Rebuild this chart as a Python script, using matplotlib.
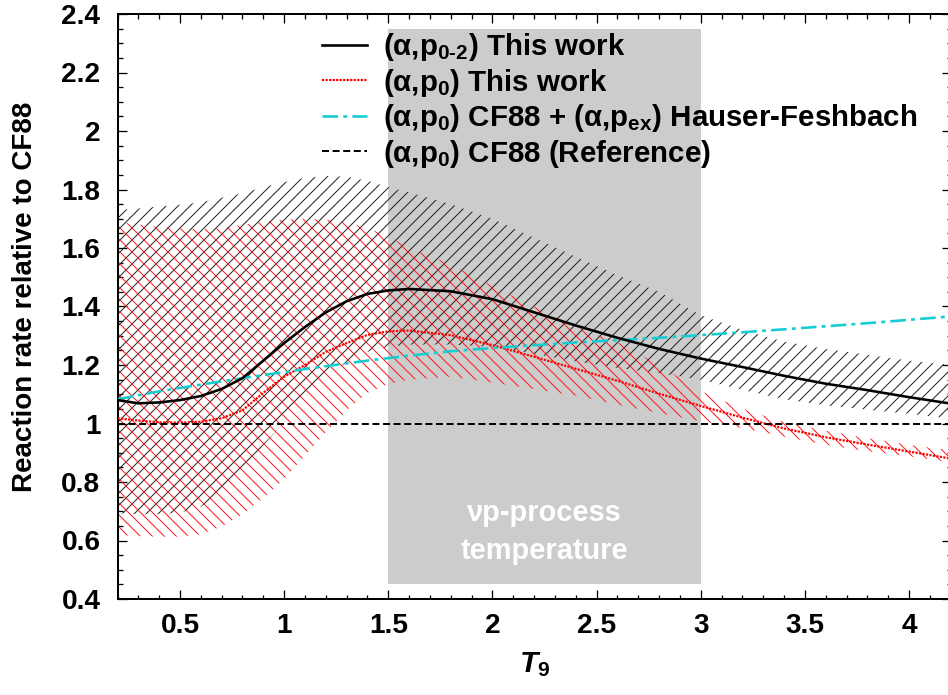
import numpy as np
import matplotlib
matplotlib.use('Agg')
import matplotlib.pyplot as plt
from matplotlib.ticker import MultipleLocator, FormatStrFormatter

plt.rcParams['font.family'] = ['Liberation Sans', 'DejaVu Sans']
plt.rcParams['font.weight'] = 'bold'
plt.rcParams['axes.labelweight'] = 'bold'
plt.rcParams['mathtext.fontset'] = 'custom'
plt.rcParams['mathtext.rm'] = 'Liberation Sans:bold'
plt.rcParams['mathtext.it'] = 'Liberation Sans:bold:italic'
plt.rcParams['mathtext.bf'] = 'Liberation Sans:bold'
plt.rcParams['mathtext.default'] = 'rm'
plt.rcParams['hatch.linewidth'] = 1.0

# temperature grid (T9)
t9 = [0.2, 0.3, 0.4, 0.5, 0.6, 0.7, 0.8, 0.9, 1.0, 1.1, 1.2, 1.3, 1.4, 1.5,
      1.6, 1.8, 2.0, 2.2, 2.4, 2.6, 2.8, 3.0, 3.2, 3.4, 3.6, 3.8, 4.0, 4.2]

# (a,p0-2) this work: central value and uncertainty band
p02 = [1.080, 1.069, 1.072, 1.080, 1.094, 1.118, 1.155, 1.215, 1.275, 1.330,
       1.380, 1.418, 1.443, 1.455, 1.460, 1.452, 1.425, 1.380, 1.335, 1.293,
       1.255, 1.222, 1.193, 1.163, 1.136, 1.114, 1.090, 1.068]
p02_hi = [1.730, 1.735, 1.742, 1.748, 1.756, 1.772, 1.787, 1.808, 1.825, 1.840,
          1.846, 1.844, 1.830, 1.808, 1.790, 1.750, 1.700, 1.635, 1.570, 1.507,
          1.450, 1.370, 1.320, 1.280, 1.255, 1.235, 1.215, 1.200]
p02_lo = [0.693, 0.690, 0.690, 0.695, 0.715, 0.765, 0.838, 0.925, 1.005, 1.085,
          1.155, 1.210, 1.245, 1.262, 1.270, 1.270, 1.262, 1.238, 1.212, 1.190,
          1.172, 1.150, 1.115, 1.083, 1.062, 1.047, 1.033, 1.017]

# (a,p0) this work: central value and uncertainty band
p0 = [1.018, 1.010, 1.004, 1.003, 1.006, 1.018, 1.045, 1.105, 1.160, 1.200,
      1.245, 1.275, 1.303, 1.315, 1.318, 1.302, 1.268, 1.228, 1.187, 1.146,
      1.102, 1.060, 1.020, 0.983, 0.953, 0.928, 0.904, 0.880]
p0_hi = [1.690, 1.680, 1.672, 1.668, 1.664, 1.668, 1.679, 1.690, 1.697, 1.700,
         1.697, 1.688, 1.668, 1.640, 1.600, 1.545, 1.470, 1.400, 1.330, 1.278,
         1.200, 1.110, 1.050, 1.005, 0.975, 0.950, 0.927, 0.908]
p0_lo = [0.619, 0.615, 0.613, 0.613, 0.622, 0.648, 0.690, 0.745, 0.810, 0.890,
         0.970, 1.045, 1.105, 1.135, 1.150, 1.160, 1.140, 1.118, 1.095, 1.065,
         1.035, 1.008, 0.985, 0.955, 0.927, 0.905, 0.888, 0.867]

# CF88 + Hauser-Feshbach
t9_hf = [0.2, 0.4, 0.6, 0.8, 1.0, 1.2, 1.4, 1.6, 1.8, 2.0, 2.4, 2.8, 3.0, 3.4, 3.8, 4.2]
hf = [1.083, 1.110, 1.133, 1.155, 1.176, 1.196, 1.215, 1.232, 1.247, 1.258,
      1.277, 1.293, 1.302, 1.322, 1.343, 1.366]

nu_p_range = (1.5, 3.0)
nu_p_y = (0.45, 2.35)

labels = [r'($\alpha$,p$_{0\text{-}2}$) This work',
          r'($\alpha$,p$_{0}$) This work',
          r'($\alpha$,p$_{0}$) CF88 + ($\alpha$,p$_{ex}$) Hauser-Feshbach',
          r'($\alpha$,p$_{0}$) CF88 (Reference)']

W, H, DPI = 948, 695, 72
fig = plt.figure(figsize=(W / DPI, H / DPI), dpi=DPI)
ax = fig.add_axes([117.5 / W, 96 / H, (950.8 - 117.5) / W, 585 / H])

# nu-p process window
ax.fill_between(nu_p_range, nu_p_y[0], nu_p_y[1], color='#cccccc', lw=0, zorder=0)
ax.text(np.mean(nu_p_range), 0.695, 'νp-process', color='white', fontsize=29,
        ha='center', va='center', zorder=1)
ax.text(np.mean(nu_p_range), 0.563, 'temperature', color='white', fontsize=29,
        ha='center', va='center', zorder=1)

# uncertainty bands
ax.fill_between(t9, p02_lo, p02_hi, facecolor='none', edgecolor='#222222',
                hatch='//', lw=0, zorder=2)
ax.fill_between(t9, p0_lo, p0_hi, facecolor='none', edgecolor='#ff1a1a',
                hatch='\\\\', lw=0, zorder=2)

l1, = ax.plot(t9, p02, color='black', lw=2.6, zorder=5)
l2, = ax.plot(t9, p0, color='red', lw=2.2, ls=(0, (1, 0.6)), zorder=4)
l3, = ax.plot(t9_hf, hf, color='#14cdd2', lw=2.6, ls=(0, (6, 2, 1.5, 2)), zorder=4)
l4 = ax.axhline(1.0, color='black', lw=2.0, ls=(0, (3.5, 1.8)), zorder=4)

leg = ax.legend([l1, l2, l3, l4], labels, frameon=False, fontsize=29.5,
                loc='upper left', bbox_to_anchor=(322 / W, 1 - 31 / H),
                bbox_transform=fig.transFigure, handlelength=1.52,
                handletextpad=0.55, labelspacing=0.12, borderpad=0, borderaxespad=0)
leg.set_zorder(6)

ax.set_xlim(0.2, 4.2)
ax.set_ylim(0.4, 2.4)
ax.xaxis.set_major_locator(MultipleLocator(0.5))
ax.xaxis.set_minor_locator(MultipleLocator(0.1))
ax.yaxis.set_major_locator(MultipleLocator(0.2))
ax.yaxis.set_minor_locator(MultipleLocator(0.05))
ax.xaxis.set_major_formatter(FormatStrFormatter('%g'))
ax.yaxis.set_major_formatter(FormatStrFormatter('%g'))
ax.tick_params(which='both', direction='in', top=True, right=True, width=1.3,
               labelsize=28)
ax.tick_params(which='major', length=9)
ax.tick_params(which='minor', length=4.5)
ax.tick_params(axis='x', pad=14)
ax.tick_params(axis='y', pad=17)
for s in ax.spines.values():
    s.set_linewidth(2)

ax.set_xlabel(r'$\mathit{T}_{9}$', fontsize=30, labelpad=11)
ax.set_ylabel('Reaction rate relative to CF88', fontsize=27.8)
ax.yaxis.set_label_coords(-0.096, 0.516)

fig.savefig('out.png', dpi=DPI)
